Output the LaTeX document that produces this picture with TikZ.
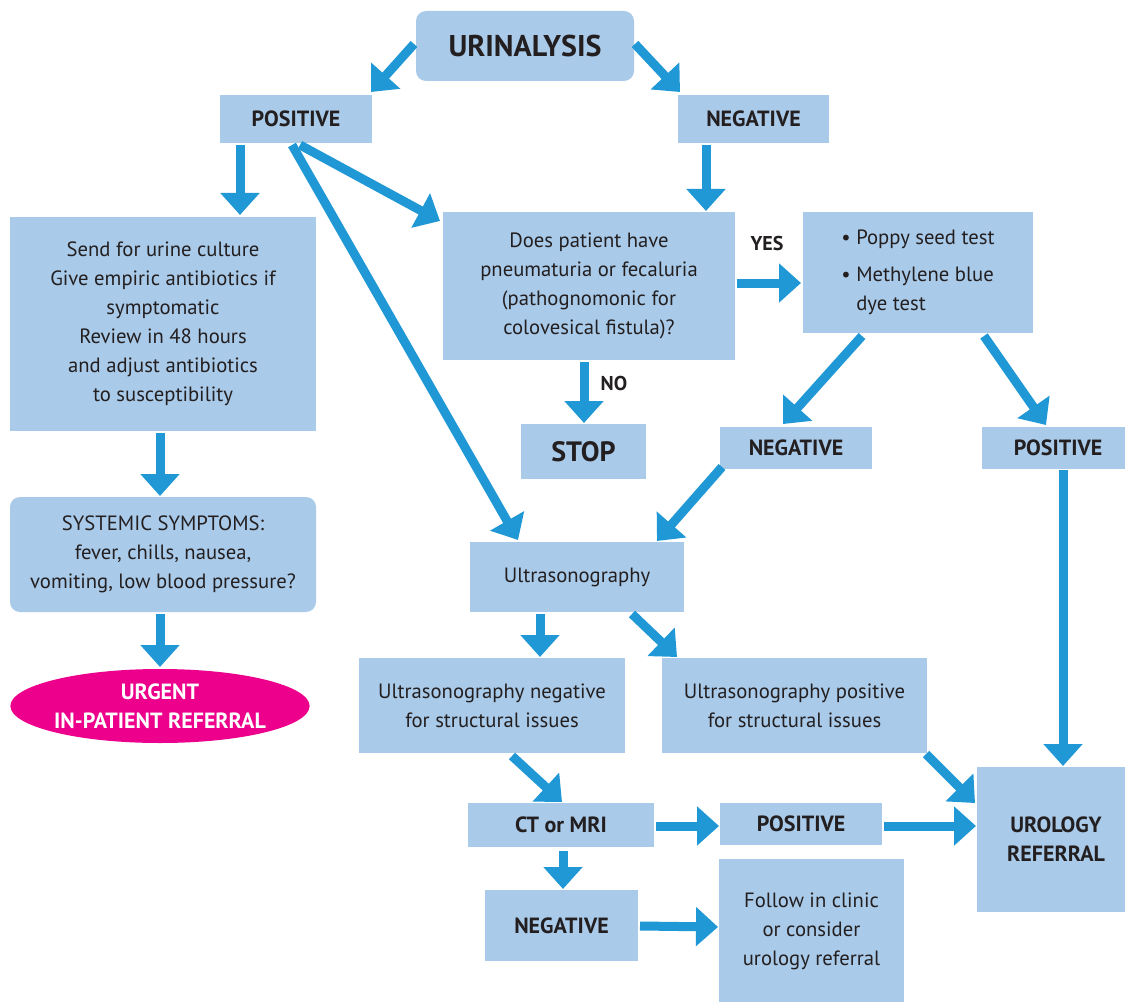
\documentclass[tikz,border=0pt]{standalone}
\usepackage{fontspec}
\setmainfont{PT Sans}
\usetikzlibrary{arrows.meta,calc,shapes.geometric}
\definecolor{boxblue}{HTML}{A9CAE9}
\definecolor{arrblue}{HTML}{2198D6}
\definecolor{magent}{HTML}{EC008C}
\definecolor{ink}{HTML}{231F20}
\tikzset{
  span/.style n args={4}{at={($(#1,#2)!0.5!(#3,#4)$)},
    minimum width={(#3-#1)*0.75pt}, minimum height={(#4-#2)*0.75pt}},
  box/.style={fill=boxblue, inner sep=0pt, outer sep=0pt, align=center, text=ink,
    font=\fontsize{15.5pt}{21.8pt}\selectfont},
  rbox/.style={box, rounded corners=7.5pt},
  lbl/.style={box, font=\fontsize{16.5pt}{21.8pt}\selectfont\bfseries},
  arr/.style={draw=arrblue, line width=6.75pt,
    -{Triangle[length=16.5pt, width=28.5pt, fill=arrblue]}},
  tag/.style={text=ink, font=\fontsize{15pt}{18pt}\selectfont\bfseries, inner sep=0pt}
}
\begin{document}
\begin{tikzpicture}[x=0.75pt, y=-0.75pt]
\useasboundingbox (0,0) rectangle (1125,1002);
\clip (0,0) rectangle (1125,1002);
\fill[white] (0,0) rectangle (1125,1002);
% nodes
\node[rbox, span={416}{11}{634}{81}, font=\fontsize{22.5pt}{26pt}\selectfont\bfseries] (uri) {URINALYSIS};
\node[lbl, span={220}{95}{372}{143}] (pos1) {POSITIVE};
\node[lbl, span={678}{95}{829}{143}] (neg1) {NEGATIVE};
\node[box, span={10}{217}{316}{431}] (send) {Send for urine culture\\Give empiric antibiotics if\\symptomatic\\Review in 48 hours\\and adjust antibiotics\\to susceptibility};
\node[box, span={443}{212}{735}{360}] (q) {Does patient have\\pneumaturia or fecaluria\\(pathognomonic for\\colovesical fistula)?};
\node[box, span={803}{212}{1033}{333}, align=left] (tests) {\textbullet\ Poppy seed test\\[6pt]\textbullet\ Methylene blue\\\phantom{\textbullet\ }dye test};
\node[lbl, span={521}{424}{646}{479}, font=\fontsize{21pt}{24pt}\selectfont\bfseries] (stop) {STOP};
\node[lbl, span={720}{427}{872}{469}] (neg2) {NEGATIVE};
\node[lbl, span={982}{427}{1134}{469}] (pos2) {POSITIVE};
\node[rbox, span={10}{497}{316}{612}] (sys) {SYSTEMIC SYMPTOMS:\\fever, chills, nausea,\\vomiting, low blood pressure?};
\node[ellipse, fill=magent, text=white, inner sep=0pt, outer sep=0pt, align=center,
  minimum width={292*0.75pt}, minimum height={74*0.75pt},
  font=\fontsize{16.5pt}{21.8pt}\selectfont\bfseries] (urg) at (160,706) {URGENT\\IN-PATIENT REFERRAL};
\node[box, span={470}{542}{684}{612}] (us) {Ultrasonography};
\node[box, span={359}{658}{625}{753}] (usneg) {Ultrasonography negative\\for structural issues};
\node[box, span={662}{658}{927}{753}] (uspos) {Ultrasonography positive\\for structural issues};
\node[lbl, span={977}{767}{1135}{912}] (uro) {UROLOGY\\REFERRAL};
\node[lbl, span={468}{803}{654}{847}] (ct) {CT or MRI};
\node[lbl, span={720}{803}{882}{845}] (pos3) {POSITIVE};
\node[lbl, span={485}{890}{638}{961}] (neg3) {NEGATIVE};
\node[box, span={719}{859}{904}{1004}] (follow) {Follow in clinic\\or consider\\urology referral};
% labels
\node[tag] (yes) at (767,244) {YES};
\node[tag] (no) at (614,383) {NO};
% arrows
\draw[arr] ($(uri.west)+(-2,-2)$) -- ($(pos1.north east)+(-1,-3)$);
\draw[arr] ($(uri.east)+(1,-2)$) -- ($(neg1.north west)+(2,-3)$);
\draw[arr] ($(pos1.south)+(-56,2)$) -- ($(send.north)+(77,-2)$);
\draw[arr] ($(pos1.south)+(4,2)$) -- ($(q.north west)+(-3,9)$);
\draw[arr] ($(pos1.south)+(-4,2)$) -- ($(us.north)+(-59,-2)$);
\draw[arr] ($(neg1.south)+(-47.5,2)$) -- ($(q.north)+(117,-1)$);
\draw[arr] ($(q.east)+(2,-3)$) -- ($(tests.west)+(-2,10.5)$);
\draw[arr] ($(q.south)+(-5,2)$) -- ($(stop.north)+(0.5,-1)$);
\draw[arr] ($(tests.south)+(-56,3)$) -- ($(neg2.north)+(-13,-3)$);
\draw[arr] ($(tests.south)+(66,3)$) -- ($(pos2.north)+(-12,-2)$);
\draw[arr] ($(neg2.south west)+(2,-2)$) -- ($(us.north east)+(-27,-1)$);
\draw[arr] ($(send.south)+(-3,2)$) -- ($(sys.north)+(-3,-1)$);
\draw[arr] ($(sys.south)+(-3,2)$) -- ($(urg.north)+(0,-2)$);
\draw[arr] ($(us.south)+(-37,2)$) -- ($(usneg.north)+(48,-1)$);
\draw[arr] ($(us.south)+(55,2)$) -- ($(uspos.north west)+(15,-1)$);
\draw[arr] ($(usneg.south)+(20,3)$) -- ($(ct.north)+(1,-1)$);
\draw[arr] ($(uspos.south east)+(-1,1)$) -- ($(uro.west)+(-2,-36.5)$);
\draw[arr] ($(pos2.south)+(5,1)$) -- ($(uro.north)+(7,-1)$);
\draw[arr] ($(ct.east)+(2,1)$) -- ($(pos3.west)+(-1,2)$);
\draw[arr] ($(pos3.east)+(2,2)$) -- ($(uro.west)+(-1,-13.5)$);
\draw[arr] ($(ct.south)+(2,4)$) -- ($(neg3.north)+(1.5,-1)$);
\draw[arr] ($(neg3.east)+(2,0.5)$) -- ($(follow.west)+(-1,-4.5)$);
\end{tikzpicture}
\end{document}
